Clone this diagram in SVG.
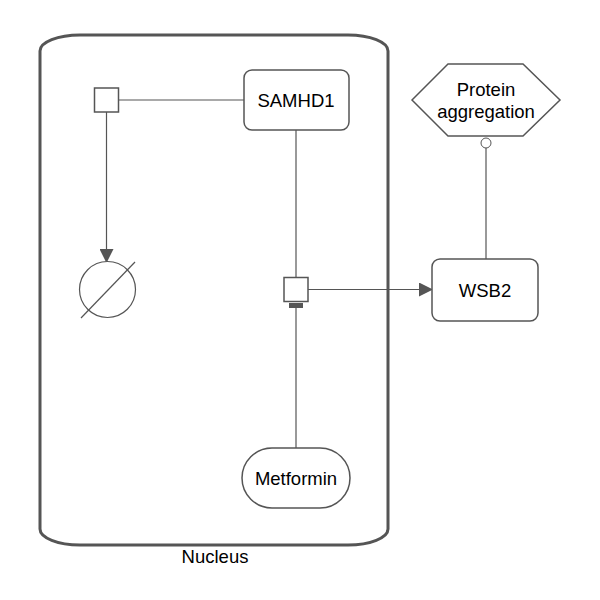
<svg xmlns="http://www.w3.org/2000/svg" width="600" height="600" viewBox="0 0 600 600">
<defs>
<style>
.node{fill:#fff;stroke:#555;stroke-width:1.5}
.edge{fill:none;stroke:#555;stroke-width:1.2}
.lbl{font-family:"Liberation Sans",Arial,sans-serif;font-size:18.5px;fill:#000;text-anchor:middle;dominant-baseline:central}
</style>
<marker id="arr" markerWidth="14" markerHeight="14" refX="13" refY="7" orient="auto" markerUnits="userSpaceOnUse">
<path d="M0,0 L14,7 L0,14 Z" fill="#555"/>
</marker>
</defs>
<rect width="600" height="600" fill="#fff"/>
<g id="nucleus">
<rect x="40" y="35" width="348" height="510" rx="40" ry="16" fill="none" stroke="#555" stroke-width="3"/>
<text class="lbl" x="215" y="556">Nucleus</text>
</g>
<g id="connectors">
<line class="edge" x1="119" y1="100" x2="244" y2="100"/>
<line class="edge" x1="106.5" y1="112" x2="106.5" y2="262" marker-end="url(#arr)"/>
<line class="edge" x1="296" y1="130" x2="296" y2="277"/>
<line class="edge" x1="308" y1="289.5" x2="432" y2="289.5" marker-end="url(#arr)"/>
<line class="edge" x1="296" y1="308" x2="296" y2="448"/>
<line class="edge" x1="486" y1="148" x2="486" y2="259"/>
<circle cx="486" cy="143" r="5" fill="#fff" stroke="#555" stroke-width="1"/>
</g>
<g id="process1">
<rect class="node" x="94.5" y="88" width="24" height="24"/>
</g>
<g id="process2">
<rect class="node" x="284" y="277.5" width="24" height="24"/>
<rect x="289" y="303" width="14" height="5" fill="#555"/>
</g>
<g id="degradation">
<circle cx="107.5" cy="289.5" r="28" fill="#fff" stroke="#555" stroke-width="1.2"/>
<line x1="81" y1="318" x2="135" y2="262" stroke="#555" stroke-width="1.2"/>
</g>
<g id="samhd1">
<rect class="node" x="244" y="70" width="105" height="60" rx="8"/>
<text class="lbl" x="296" y="100">SAMHD1</text>
</g>
<g id="wsb2">
<rect class="node" x="432" y="259" width="106" height="62" rx="8"/>
<text class="lbl" x="485" y="290">WSB2</text>
</g>
<g id="protein_aggregation">
<polygon class="node" points="412,100 448,64 523,64 560,100 523,136 448,136"/>
<text class="lbl" x="486" y="89">Protein</text>
<text class="lbl" x="486" y="111">aggregation</text>
</g>
<g id="metformin">
<rect class="node" x="242" y="448" width="108" height="60" rx="30" ry="30"/>
<text class="lbl" x="296" y="478">Metformin</text>
</g>
</svg>
